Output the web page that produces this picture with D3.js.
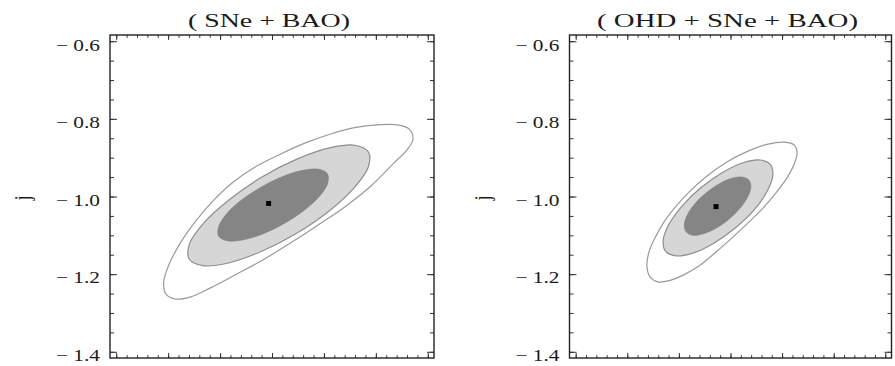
<!DOCTYPE html>
<html>
<head>
<meta charset="utf-8">
<script src="https://cdn.jsdelivr.net/npm/d3@7"></script>
<style>
	body { margin: 0; background: #fff; }
	svg text { font-family: "Liberation Serif", "Times New Roman", serif; fill: #1a1a1a; }
</style>
</head>
<body>
<svg id="plot"></svg>
<script>
const WIDTH = 895;
const HEIGHT = 366;

// ---- data (x axis has no labels, units are arbitrary) ----
const titles = ["( SNe + BAO)", "( OHD + SNe + BAO)"];
const yLabel = "j";
const xMajorTicks = [0, 0.2, 0.4, 0.6, 0.8, 1.0, 1.2];
const yMajorTicks = [-1.4, -1.2, -1.0, -0.8, -0.6];

// SNe + BAO
const snBestFit = [0.587, -1.018];
const snInner = [
	[0.814, -0.942], [0.814, -0.967], [0.782, -1.000], [0.723, -1.036], [0.645, -1.070],
	[0.562, -1.097], [0.485, -1.112], [0.426, -1.114], [0.394, -1.102], [0.395, -1.077],
	[0.426, -1.044], [0.485, -1.008], [0.563, -0.974], [0.647, -0.947], [0.724, -0.932],
	[0.782, -0.930],
];
const snMiddle = [
	[0.972, -0.886], [0.971, -0.924], [0.917, -0.977], [0.819, -1.038], [0.692, -1.096],
	[0.554, -1.143], [0.428, -1.172], [0.333, -1.178], [0.281, -1.161], [0.282, -1.122],
	[0.336, -1.069], [0.434, -1.009], [0.561, -0.950], [0.698, -0.903], [0.825, -0.874],
	[0.920, -0.868],
];
const snOuter = [
	[1.143, -0.852], [1.128, -0.826], [1.089, -0.816], [1.019, -0.815], [0.923, -0.822],
	[0.826, -0.839], [0.729, -0.862], [0.632, -0.891], [0.535, -0.924], [0.446, -0.965],
	[0.369, -1.014], [0.303, -1.066], [0.245, -1.122], [0.202, -1.177], [0.183, -1.220],
	[0.191, -1.251], [0.226, -1.264], [0.284, -1.259], [0.361, -1.236], [0.458, -1.202],
	[0.563, -1.164], [0.671, -1.120], [0.779, -1.073], [0.884, -1.025], [0.981, -0.973],
	[1.066, -0.916], [1.120, -0.880],
];

// OHD + SNe + BAO
const allBestFit = [0.544, -1.026];
const allInner = [
	[0.672, -0.958], [0.679, -0.976], [0.666, -1.002], [0.636, -1.031], [0.593, -1.059],
	[0.543, -1.082], [0.494, -1.096], [0.453, -1.100], [0.428, -1.091], [0.421, -1.073],
	[0.433, -1.047], [0.463, -1.018], [0.507, -0.990], [0.557, -0.967], [0.605, -0.953],
	[0.646, -0.950],
];
const allMiddle = [
	[0.755, -0.918], [0.764, -0.946], [0.741, -0.988], [0.690, -1.036], [0.617, -1.082],
	[0.534, -1.121], [0.454, -1.146], [0.389, -1.153], [0.348, -1.141], [0.339, -1.113],
	[0.362, -1.071], [0.413, -1.024], [0.486, -0.977], [0.569, -0.938], [0.649, -0.913],
	[0.714, -0.906],
];
const allOuter = [
	[0.858, -0.885], [0.850, -0.911], [0.819, -0.952], [0.772, -0.994], [0.726, -1.030],
	[0.668, -1.068], [0.610, -1.104], [0.544, -1.143], [0.482, -1.177], [0.424, -1.200],
	[0.366, -1.216], [0.319, -1.220], [0.288, -1.207], [0.276, -1.179], [0.284, -1.143],
	[0.307, -1.107], [0.342, -1.066], [0.389, -1.025], [0.443, -0.986], [0.509, -0.947],
	[0.586, -0.911], [0.668, -0.883], [0.745, -0.865], [0.811, -0.860], [0.846, -0.867],
];

const panels = [
	{ title: titles[0], titleWidth: 162, contours: [snOuter, snMiddle, snInner], best: snBestFit, left: 110, right: 434 },
	{ title: titles[1], titleWidth: 261, contours: [allOuter, allMiddle, allInner], best: allBestFit, left: 569.5, right: 891.5 },
];

const FRAME_TOP = 35;
const FRAME_BOTTOM = 358;
const PAD = 0.02; // fraction of the range added on each side
const STRETCH = 1.3; // the picture's text is drawn wider than tall

const contourStyles = [
	{ fill: "#ffffff", stroke: "#9a9a9a", width: 1.2 },
	{ fill: "#d6d6d6", stroke: "#8e8e8e", width: 1.2 },
	{ fill: "#858585", stroke: "#7d7d7d", width: 0.6 },
];

const svg = d3.select("#plot").attr("width", WIDTH).attr("height", HEIGHT);
const line = d3.line().curve(d3.curveCatmullRomClosed.alpha(0.5));

const xMinorTicks = d3.range(0, 1.2001, 0.04).map(v => +v.toFixed(2));
const yMinorTicks = d3.range(-1.4, -0.5999, 0.05).map(v => +v.toFixed(2));
const tickLabel = v => "\u2212 " + Math.abs(v).toFixed(1);

function padded([a, b]) {
	const p = (b - a) * PAD;
	return [a - p, b + p];
}

panels.forEach(panel => {
	const x = d3.scaleLinear(padded([0, 1.2]), [panel.left, panel.right]);
	const y = d3.scaleLinear(padded([-1.4, -0.6]), [FRAME_BOTTOM, FRAME_TOP]);
	const g = svg.append("g");

	panel.contours.forEach((pts, i) => {
		g.append("path")
			.attr("d", line(pts.map(([a, b]) => [x(a), y(b)])))
			.attr("fill", contourStyles[i].fill)
			.attr("stroke", contourStyles[i].stroke)
			.attr("stroke-width", contourStyles[i].width);
	});

	g.append("rect")
		.attr("x", x(panel.best[0]) - 2.5)
		.attr("y", y(panel.best[1]) - 2.5)
		.attr("width", 5)
		.attr("height", 5)
		.attr("fill", "#000");

	// ticks on all four sides, pointing inward
	const axes = [
		[d3.axisLeft(y).tickValues(yMajorTicks).tickSize(-7).tickPadding(10).tickFormat(tickLabel), panel.left, 0],
		[d3.axisLeft(y).tickValues(yMinorTicks).tickSize(-4).tickFormat(""), panel.left, 0],
		[d3.axisRight(y).tickValues(yMajorTicks).tickSize(-7).tickFormat(""), panel.right, 0],
		[d3.axisRight(y).tickValues(yMinorTicks).tickSize(-4).tickFormat(""), panel.right, 0],
		[d3.axisBottom(x).tickValues(xMajorTicks).tickSize(-5).tickFormat(""), 0, FRAME_BOTTOM],
		[d3.axisBottom(x).tickValues(xMinorTicks).tickSize(-2.8).tickFormat(""), 0, FRAME_BOTTOM],
		[d3.axisTop(x).tickValues(xMajorTicks).tickSize(-5).tickFormat(""), 0, FRAME_TOP],
		[d3.axisTop(x).tickValues(xMinorTicks).tickSize(-2.8).tickFormat(""), 0, FRAME_TOP],
	];
	axes.forEach(([axis, tx, ty]) => {
		const a = g.append("g").attr("transform", `translate(${tx},${ty})`).call(axis);
		a.select(".domain").remove();
		a.selectAll("line").attr("stroke", "#333").attr("stroke-width", 1);
	});

	g.selectAll("text")
		.filter(function () { return this.textContent !== ""; })
		.attr("font-size", 17)
		.attr("fill", "#1a1a1a")
		.attr("dy", "0.52em")
		.attr("textLength", 44)
		.attr("lengthAdjust", "spacingAndGlyphs");

	g.append("rect")
		.attr("x", panel.left)
		.attr("y", FRAME_TOP)
		.attr("width", panel.right - panel.left)
		.attr("height", FRAME_BOTTOM - FRAME_TOP)
		.attr("fill", "none")
		.attr("stroke", "#222")
		.attr("stroke-width", 1.4);

	const mid = (panel.left + panel.right) / 2;
	g.append("text")
		.attr("x", mid - 3)
		.attr("y", 27)
		.attr("text-anchor", "middle")
		.attr("font-size", 19)
		.attr("textLength", panel.titleWidth)
		.attr("lengthAdjust", "spacingAndGlyphs")
		.text(panel.title);

	g.append("text")
		.attr("transform", `translate(${panel.left - 80},198) scale(${STRETCH},1) rotate(-90)`)
		.attr("text-anchor", "middle")
		.attr("font-size", 17)
		.text(yLabel);
});
</script>
</body>
</html>
